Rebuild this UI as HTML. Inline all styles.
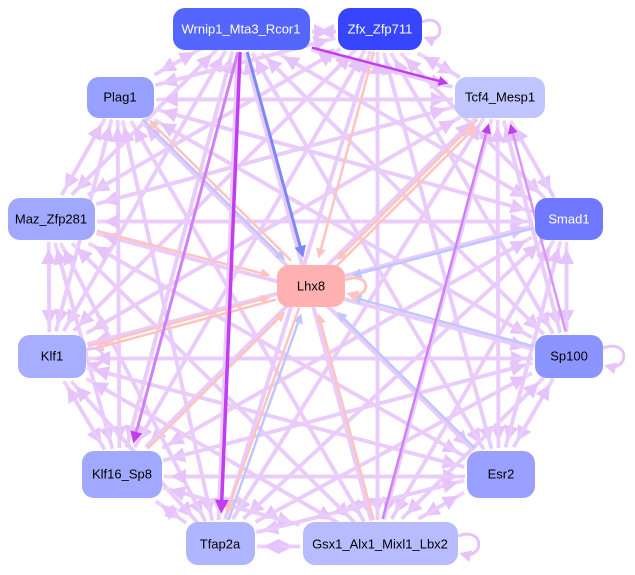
<!DOCTYPE html>
<html><head><meta charset="utf-8"><style>
body{margin:0;background:#fff;width:635px;height:575px;overflow:hidden}
svg{display:block}
text{font-family:"Liberation Sans",sans-serif;font-size:13px;text-anchor:middle;dominant-baseline:central}
</style></head><body>
<svg id="s" width="635" height="575" xmlns="http://www.w3.org/2000/svg">
<defs>
<marker id="a1" markerWidth="4" markerHeight="4" refX="3" refY="2" orient="auto" markerUnits="strokeWidth"><path d="M0,0L4,2L0,4z" fill="#e6c3fb"/></marker>
<marker id="a2" markerWidth="4" markerHeight="4" refX="3" refY="2" orient="auto" markerUnits="strokeWidth"><path d="M0,0L4,2L0,4z" fill="#c0c6ff"/></marker>
<marker id="a3" markerWidth="4" markerHeight="4" refX="3" refY="2" orient="auto" markerUnits="strokeWidth"><path d="M0,0L4,2L0,4z" fill="#ffc4c0"/></marker>
<marker id="a4" markerWidth="4" markerHeight="4" refX="3" refY="2" orient="auto" markerUnits="strokeWidth"><path d="M0,0L4,2L0,4z" fill="#7c88f4"/></marker>
<marker id="a5" markerWidth="4" markerHeight="4" refX="3" refY="2" orient="auto" markerUnits="strokeWidth"><path d="M0,0L4,2L0,4z" fill="#c23cf2"/></marker>
</defs>
<g id="edges"></g>
<g fill="none" stroke-width="3">
<path d="M422,22 C445,12 445,46 426,38" stroke="#e6c3fb" marker-end="url(#a1)"/>
<path d="M345,280 C372,270 372,300 349,294" stroke="#ffc4c0" marker-end="url(#a3)"/>
<path d="M603,348 C630,338 630,372 607,366" stroke="#e6c3fb" marker-end="url(#a1)"/>
<path d="M458,536 C485,526 485,560 462,554" stroke="#e6c3fb" marker-end="url(#a1)"/>
<path d="M86,350 C108,342 108,370 90,364" stroke="#e6c3fb" marker-end="url(#a1)"/>
</g>
<g id="nodes">
<rect x="173" y="8" width="137" height="42" rx="12" fill="#5566ff"/><text x="241" y="29" fill="#fff">Wrnip1_Mta3_Rcor1</text>
<rect x="338" y="8" width="84" height="42" rx="12" fill="#3745ff"/><text x="380" y="29" fill="#fff">Zfx_Zfp711</text>
<rect x="87" y="77" width="67" height="41" rx="12" fill="#98a0ff"/><text x="120" y="97">Plag1</text>
<rect x="455" y="77" width="90" height="41" rx="12" fill="#c0c4ff"/><text x="500" y="97">Tcf4_Mesp1</text>
<rect x="8" y="198" width="87" height="42" rx="12" fill="#a0a8ff"/><text x="51" y="219">Maz_Zfp281</text>
<rect x="535" y="198" width="68" height="42" rx="12" fill="#7078ff"/><text x="569" y="219" fill="#fff">Smad1</text>
<rect x="277" y="265" width="68" height="42" rx="12" fill="#ffb0b0"/><text x="311" y="286">Lhx8</text>
<rect x="18" y="335" width="68" height="43" rx="12" fill="#a8aeff"/><text x="52" y="356">Klf1</text>
<rect x="535" y="335" width="68" height="43" rx="12" fill="#8c94ff"/><text x="569" y="356">Sp100</text>
<rect x="82" y="451" width="80" height="47" rx="12" fill="#a0a8ff"/><text x="122" y="474">Klf16_Sp8</text>
<rect x="467" y="451" width="68" height="47" rx="12" fill="#9aa0ff"/><text x="501" y="474">Esr2</text>
<rect x="186" y="522" width="69" height="43" rx="12" fill="#b0b5ff"/><text x="220" y="544">Tfap2a</text>
<rect x="303" y="522" width="155" height="43" rx="12" fill="#b8bcff"/><text x="380" y="544">Gsx1_Alx1_Mixl1_Lbx2</text>
</g>
</svg>
<script>
var N={W:[241,29,69,21],Z:[380,29,42,21],P:[120,97,34,21],T:[500,97,45,21],M:[51,219,44,21],S:[569,219,34,21],L:[311,286,34,21],K:[52,356,34,22],Sp:[569,356,34,22],K16:[122,474,40,24],E:[501,474,34,24],Tf:[220,544,35,22],G:[380,544,78,22]};
var outer=["W","Z","P","T","M","S","K","Sp","K16","E","Tf","G"];
var g=document.getElementById("edges"),ns="http://www.w3.org/2000/svg";
function clip(a,b,off){var dx=a[0]-b[0],dy=a[1]-b[1];var t=Math.min(b[2]/Math.abs(dx||1e-6),b[3]/Math.abs(dy||1e-6));t=Math.min(t,1);var L=Math.hypot(dx,dy);var s=t+off/L;return[b[0]+dx*s,b[1]+dy*s];}
function edge(f,t,col,w,m,shift){var a=N[f],b=N[t];var sh=shift||0;var dx=b[0]-a[0],dy=b[1]-a[1],L=Math.hypot(dx,dy);var px=-dy/L*sh,py=dx/L*sh;
var A=[a[0]+px,a[1]+py,a[2],a[3]],B=[b[0]+px,b[1]+py,b[2],b[3]];
var p1=clip(B,A,2),p2=clip(A,B,3+w*2.5);
var l=document.createElementNS(ns,"line");l.setAttribute("x1",p1[0]);l.setAttribute("y1",p1[1]);l.setAttribute("x2",p2[0]);l.setAttribute("y2",p2[1]);
l.setAttribute("stroke",col);l.setAttribute("stroke-width",w);l.setAttribute("marker-end","url(#"+m+")");g.appendChild(l);}
for(var i=0;i<outer.length;i++)for(var j=i+1;j<outer.length;j++){edge(outer[i],outer[j],"#eed2fb",3.8,"a1",2.5);edge(outer[j],outer[i],"#e9ccfb",3.8,"a1",-2.5);}
var toL={Z:"a3",P:"a2",T:"a3",M:"a3",S:"a2",K:"a3",Sp:"a2",K16:"a3",E:"a2",Tf:"a2",G:"a3"};
for(var k in toL){edge(k,"L",toL[k]=="a2"?"#c0c6ff":"#ffc4c0",2.5,toL[k]);}
edge("L","T","#ffc4c0",2.5,"a3",4);edge("L","P","#ffc4c0",2.5,"a3",4);edge("L","K","#ffc4c0",2.5,"a3",-4);edge("L","Tf","#ffc4c0",2.5,"a3",4);
edge("W","L","#7c88f4",3,"a4");
edge("W","Tf","#c23cf2",3.5,"a5");
edge("W","T","#c23cf2",2.5,"a5");
edge("W","K16","#d080f8",3,"a5",-3);
edge("G","T","#d080f8",2.5,"a5",-4);
edge("Sp","T","#d896f8",2.5,"a5",3);
</script>
</body></html>
